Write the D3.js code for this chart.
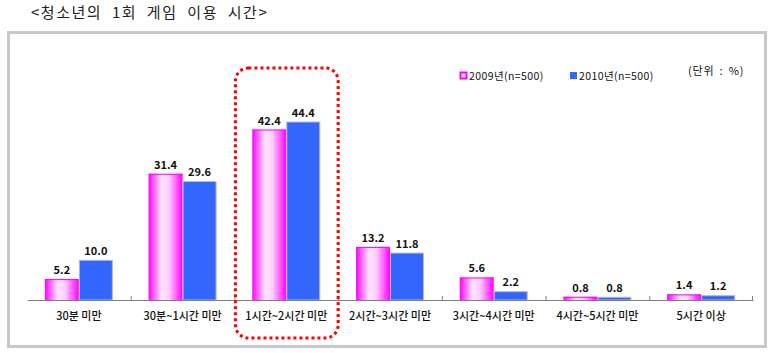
<!DOCTYPE html>
<html>
<head>
<meta charset="utf-8">
<script src="https://cdn.jsdelivr.net/npm/d3@7"></script>
<style>
  body { margin: 0; background: #fff; }
  text { font-family: "Noto Sans CJK KR", "Noto Sans", sans-serif; }
</style>
</head>
<body>
<svg id="chart" width="774" height="353"></svg>
<script>
// Chart data
const categories = ['30분 미만', '30분~1시간 미만', '1시간~2시간 미만', '2시간~3시간 미만',
	'3시간~4시간 미만', '4시간~5시간 미만', '5시간 이상'];
const seriesNames = ['2009년(n=500)', '2010년(n=500)'];
const values2009 = [5.2, 31.4, 42.4, 13.2, 5.6, 0.8, 1.4];
const values2010 = [10.0, 29.6, 44.4, 11.8, 2.2, 0.8, 1.2];
const highlightCategory = '1시간~2시간 미만';

const svg = d3.select('#chart');
const margin = {left: 27, right: 21, top: 99, bottom: 53};
const width = 774 - margin.left - margin.right;
const height = 353 - margin.top - margin.bottom;

// Title
svg.append('text')
	.attr('x', 31).attr('y', 18)
	.style('font-size', '15px')
	.style('letter-spacing', '1.5px')
	.style('word-spacing', '5px')
	.attr('fill', '#222')
	.text('<청소년의 1회 게임 이용 시간>');

// Outer frame
svg.append('rect')
	.attr('x', 8.5).attr('y', 32.5)
	.attr('width', 757).attr('height', 314)
	.attr('fill', 'none')
	.attr('stroke', '#c8c8c8')
	.attr('stroke-width', 3);

// Gradient for 2009 bars
const defs = svg.append('defs');
const grad = defs.append('linearGradient')
	.attr('id', 'pinkGrad')
	.attr('x1', '0%').attr('x2', '100%').attr('y1', '0%').attr('y2', '0%');
grad.append('stop').attr('offset', '0%').attr('stop-color', '#ff00ff');
grad.append('stop').attr('offset', '38%').attr('stop-color', '#ffe6ff');
grad.append('stop').attr('offset', '60%').attr('stop-color', '#ffccff');
grad.append('stop').attr('offset', '100%').attr('stop-color', '#ff00ff');

const chart = svg.append('g')
	.attr('transform', `translate(${margin.left},${margin.top})`);

const xScale = d3.scaleBand()
	.domain(categories)
	.range([0, width]);

const xInner = d3.scaleBand()
	.domain([0, 1])
	.range([0, 68]);

const yScale = d3.scaleLinear()
	.domain([0, 50])
	.range([height, 0]);

// Bars
const groups = chart.selectAll('.group')
	.data(categories)
	.join('g')
	.attr('class', 'group')
	.attr('transform', d => `translate(${xScale(d) + (xScale.bandwidth() - 68) / 2},0)`);

groups.append('rect')
	.attr('x', xInner(0))
	.attr('y', (d, i) => yScale(values2009[i]))
	.attr('width', xInner.bandwidth())
	.attr('height', (d, i) => height - yScale(values2009[i]))
	.attr('fill', 'url(#pinkGrad)');

groups.append('line')
	.attr('x1', xInner(0)).attr('x2', xInner(0) + xInner.bandwidth())
	.attr('y1', (d, i) => yScale(values2009[i]) + 0.5)
	.attr('y2', (d, i) => yScale(values2009[i]) + 0.5)
	.attr('stroke', '#ff00ff');

groups.append('rect')
	.attr('x', xInner(1) + 0.5)
	.attr('y', (d, i) => yScale(values2010[i]) + 0.5)
	.attr('width', xInner.bandwidth() - 1)
	.attr('height', (d, i) => height - yScale(values2010[i]) - 0.5)
	.attr('fill', '#3366ff')
	.attr('stroke', '#b8b8c8')
	.attr('stroke-width', 1);

// Value labels
[values2009, values2010].forEach((vals, s) => {
	groups.append('text')
		.attr('x', xInner(s) + xInner.bandwidth() / 2)
		.attr('y', (d, i) => yScale(vals[i]) - 5)
		.attr('text-anchor', 'middle')
		.style('font-size', '11px')
		.style('font-weight', 'bold')
		.attr('fill', '#111')
		.text((d, i) => vals[i].toFixed(1));
});

// X axis
const xAxis = d3.axisBottom(xScale).tickSize(0).tickPadding(12);
const xAxisG = chart.append('g')
	.attr('transform', `translate(0,${height})`)
	.call(xAxis);
xAxisG.select('.domain').attr('stroke', '#808080');
xAxisG.selectAll('text')
	.style('font-size', '11px')
	.style('font-family', '"Noto Sans CJK KR", sans-serif')
	.style('font-weight', '500')
	.attr('fill', '#111');

// Category boundary ticks (upwards)
chart.selectAll('.sep')
	.data(categories.slice(1).concat(['end']))
	.join('line')
	.attr('x1', (d, i) => i < categories.length - 1 ? xScale(d) + 0.5 : width - 0.5)
	.attr('x2', (d, i) => i < categories.length - 1 ? xScale(d) + 0.5 : width - 0.5)
	.attr('y1', height).attr('y2', height - 4)
	.attr('stroke', '#808080');

// Highlight box around 1~2시간
chart.append('rect')
	.attr('x', xScale(highlightCategory) + 1)
	.attr('y', 68 - margin.top)
	.attr('width', xScale.bandwidth() - 1)
	.attr('height', 270)
	.attr('rx', 13).attr('ry', 13)
	.attr('fill', 'none')
	.attr('stroke', '#ff0000')
	.attr('stroke-width', 3)
	.attr('stroke-dasharray', '3,3');

// Legend
const legend = svg.append('g').attr('transform', 'translate(458,76)');
const colors = ['#ff00ff', '#3366ff'];
const legendX = [0, 110];
seriesNames.forEach((name, i) => {
	if (i === 0) {
		legend.append('rect')
			.attr('x', legendX[i] + 2.5).attr('y', -3.5)
			.attr('width', 6).attr('height', 6)
			.attr('fill', '#ffe6ff')
			.attr('stroke', colors[i]).attr('stroke-width', 2);
	} else {
		legend.append('rect')
			.attr('x', legendX[i] + 2).attr('y', -4)
			.attr('width', 7).attr('height', 7)
			.attr('fill', colors[i]);
	}
	legend.append('text')
		.attr('x', legendX[i] + 11).attr('y', 4)
		.style('font-size', '10.5px')
		.style('letter-spacing', '0.4px')
		.attr('fill', '#111')
		.text(name);
});

svg.append('text')
	.attr('x', 688).attr('y', 75)
	.style('font-size', '11px')
	.style('letter-spacing', '0.8px')
	.style('word-spacing', '2px')
	.attr('fill', '#111')
	.text('(단위 : %)');
</script>
</body>
</html>
